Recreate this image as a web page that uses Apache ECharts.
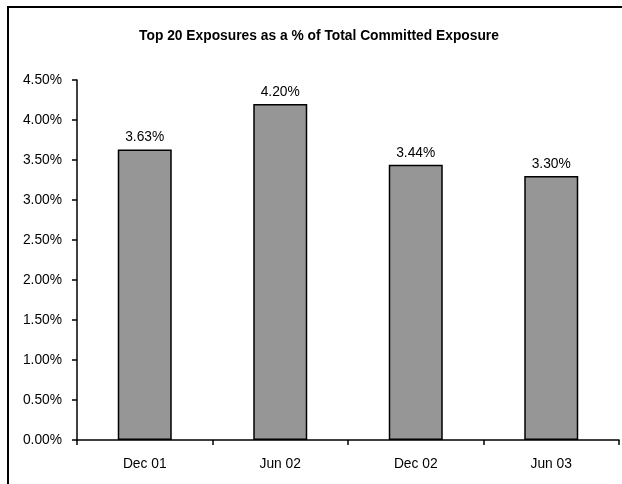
<!DOCTYPE html>
<html>
<head>
<meta charset="utf-8">
<script src="https://cdn.jsdelivr.net/npm/echarts@6/dist/echarts.min.js"></script>
<style>html,body{margin:0;padding:0;background:#fff}#c{width:622px;height:484px}</style>
</head>
<body>
<div id="c"></div>
<script>
var categories = ['Dec 01', 'Jun 02', 'Dec 02', 'Jun 03'];
var values = [3.63, 4.20, 3.44, 3.30];
var yTicks = [0, 0.5, 1, 1.5, 2, 2.5, 3, 3.5, 4, 4.5];

var chart = echarts.init(document.getElementById('c'), null, {renderer: 'canvas'});
var font = '"Liberation Sans", Arial, sans-serif';
var fs = 13.8;
chart.setOption({
  animation: false,
  backgroundColor: '#fff',
  title: {
    text: 'Top 20 Exposures as a % of Total Committed Exposure',
    left: 314, top: 24, textAlign: 'center',
    textStyle: {fontFamily: font, fontSize: fs, fontWeight: 'bold', color: '#000'}
  },
  graphic: [
    {type: 'polyline', shape: {points: [[8, 484], [8, 7], [622, 7]]}, style: {stroke: '#000', lineWidth: 2, fill: null}}
  ],
  grid: {left: 77, top: 80, right: 3, bottom: 44, containLabel: false},
  xAxis: {
    type: 'category', data: categories,
    axisLine: {lineStyle: {color: '#000', width: 1.5}},
    axisTick: {show: true, length: 5, alignWithLabel: false, lineStyle: {color: '#000', width: 1.5}},
    axisLabel: {fontFamily: font, fontSize: fs, color: '#000', margin: 17}
  },
  yAxis: {
    type: 'value', min: 0, max: yTicks[yTicks.length - 1], interval: 0.5,
    splitLine: {show: false},
    axisLine: {show: true, lineStyle: {color: '#000', width: 1.5}},
    axisTick: {show: true, length: 5, lineStyle: {color: '#000', width: 1.5}},
    axisLabel: {fontFamily: font, fontSize: fs, color: '#000', margin: 15,
      formatter: function (v) { return v.toFixed(2) + '%'; }}
  },
  series: [{
    type: 'bar', data: values, barWidth: 54,
    itemStyle: {color: '#969696', borderColor: '#000', borderWidth: 1.5},
    label: {show: true, position: 'top', distance: 5, fontFamily: font, fontSize: fs, color: '#000',
      formatter: function (p) { return p.value.toFixed(2) + '%'; }}
  }]
});
</script>
</body>
</html>
